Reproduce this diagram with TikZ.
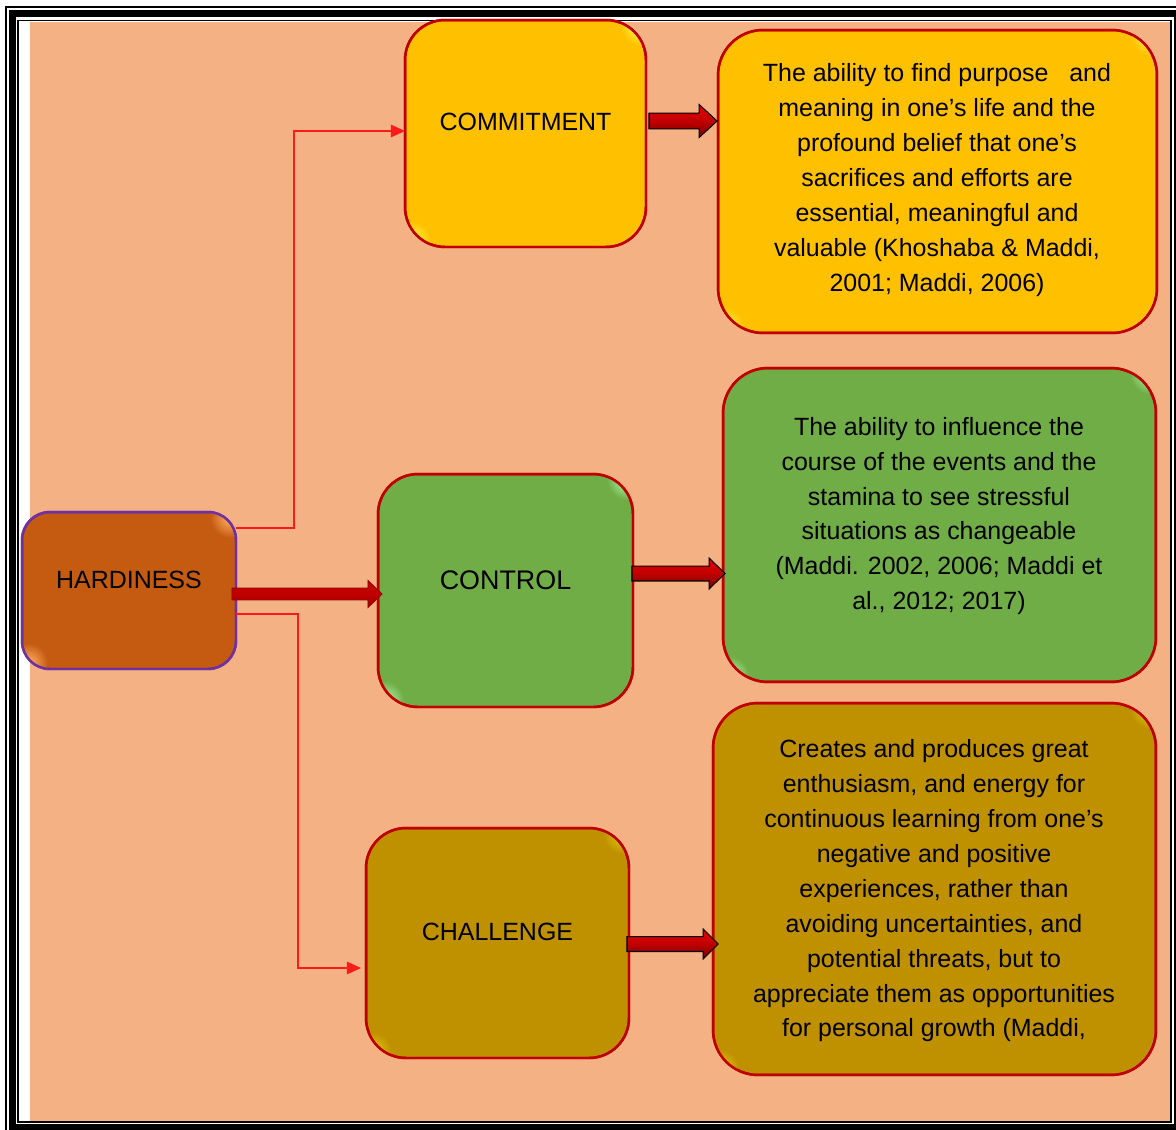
\documentclass[tikz,border=0pt]{standalone}
\usepackage{fontspec}
\setmainfont{Liberation Sans}
\usetikzlibrary{calc,arrows.meta}
\definecolor{peach}{HTML}{F4B183}
\definecolor{hardfill}{HTML}{C55A11}
\definecolor{hardedge}{HTML}{7030A0}
\definecolor{gold}{HTML}{FFC000}
\definecolor{leaf}{HTML}{70AD47}
\definecolor{ochre}{HTML}{BF9000}
\definecolor{edgered}{HTML}{C00000}
\definecolor{linkred}{HTML}{FF1A1A}

% glossy corner highlights, then the border redrawn on top
\newcommand\gloss[5]{%
  \begin{scope}
    \clip[rounded corners=#2] (#1.south west) rectangle (#1.north east);
    \shade[inner color=#4, outer color=#3] ($(#1.north east)+(-6,6)$) circle (20);
    \shade[inner color=#4, outer color=#3] ($(#1.south west)+(6,-6)$) circle (20);
  \end{scope}
  \draw[line width=1.4pt, #5, rounded corners=#2] (#1.south west) rectangle (#1.north east);
}
% block arrow: start, tip, shaft half-height, head half-height, head length
\newcommand\blockarr[6]{%
  \draw[#6] let \p1=(#1), \p2=(#2) in
    (\x1,\y1+#3) -- (\x2-#5,\y1+#3) -- (\x2-#5,\y1+#4) -- (\x2,\y1)
    -- (\x2-#5,\y1-#4) -- (\x2-#5,\y1-#3) -- (\x1,\y1-#3) -- cycle;
}

\begin{document}
\begin{tikzpicture}[x=0.02cm, y=-0.02cm,
  box/.style={rectangle, inner sep=0pt, outer sep=0pt, line width=1.4pt},
  lbl/.style={font=\fontsize{14.2pt}{17pt}\selectfont, inner sep=0pt},
  desc/.style={font=\fontsize{14.2pt}{19.85pt}\selectfont, align=center, inner sep=0pt},
  link/.style={draw=linkred, line width=0.9pt, -{Triangle[length=8pt,width=7pt]}},
  fatarrow/.style={draw=black, line width=0.6pt, top color=red!90!black, bottom color=red!45!black, middle color=edgered},
  mainarrow/.style={draw=red!60!black, line width=0.5pt, top color=red!75!black, bottom color=red!60!black, middle color=edgered}
]
\useasboundingbox (0,0) rectangle (1176,1129);
\begin{scope}
  \clip (0,0) rectangle (1176,1129);
  \fill[white] (0,0) rectangle (1176,1129);
  \fill[peach] (30,22) rectangle (1170,1121);
  % triple frame
  \draw[line width=1.13pt] (6,7) rectangle (1195,1145);
  \draw[line width=3.97pt] (12.5,13.5) rectangle (1177.5,1127.5);
  \draw[line width=1.13pt] (18,20.5) rectangle (1171,1122);
\end{scope}

% boxes
\node[box, fill=hardfill, draw=hardedge, rounded corners=0.56cm, minimum width=4.28cm, minimum height=3.14cm] (hard) at (129,590.5) {};
\node[box, fill=gold, draw=edgered, rounded corners=0.8cm, minimum width=4.82cm, minimum height=4.54cm] (comm) at (525.5,133.5) {};
\node[box, fill=leaf, draw=edgered, rounded corners=0.8cm, minimum width=5.10cm, minimum height=4.66cm] (ctrl) at (505.5,590.5) {};
\node[box, fill=ochre, draw=edgered, rounded corners=0.8cm, minimum width=5.26cm, minimum height=4.60cm] (chal) at (497.5,943) {};
\node[box, fill=gold, draw=edgered, rounded corners=0.9cm, minimum width=8.78cm, minimum height=6.06cm] (d1) at (937.5,181.5) {};
\node[box, fill=leaf, draw=edgered, rounded corners=0.9cm, minimum width=8.66cm, minimum height=6.28cm] (d2) at (939.5,525) {};
\node[box, fill=ochre, draw=edgered, rounded corners=0.9cm, minimum width=8.86cm, minimum height=7.44cm] (d3) at (934.5,889) {};

\gloss{hard}{0.56cm}{hardfill}{orange!60!white}{hardedge}
\gloss{comm}{0.8cm}{gold}{yellow!70!white}{edgered}
\gloss{ctrl}{0.8cm}{leaf}{green!30!white}{edgered}
\gloss{chal}{0.8cm}{ochre}{yellow!60!ochre}{edgered}
\gloss{d1}{0.9cm}{gold}{yellow!70!white}{edgered}
\gloss{d2}{0.9cm}{leaf}{green!30!white}{edgered}
\gloss{d3}{0.9cm}{ochre}{yellow!60!ochre}{edgered}

% labels
\node[lbl] (hard-t) at ($(hard.center)+(0,-10.5)$) {HARDINESS};
\node[lbl] (comm-t) at ($(comm.center)+(0,-11.5)$) {COMMITMENT};
\node[lbl, font=\fontsize{15.3pt}{18pt}\selectfont] (ctrl-t) at ($(ctrl.center)+(0,-10.5)$) {CONTROL};
\node[lbl] (chal-t) at ($(chal.center)+(0,-11)$) {CHALLENGE};

\node[desc] (d1-t) at (937,180) {The ability to find purpose\ \ \ and\\meaning in one’s life and the\\profound belief that one’s\\sacrifices and efforts are\\essential, meaningful and\\valuable (Khoshaba \& Maddi,\\2001; Maddi, 2006)};
\node[desc] (d2-t) at (939,516) {The ability to influence the\\course of the events and the\\stamina to see stressful\\situations as changeable\\(Maddi. 2002, 2006; Maddi et\\al., 2012; 2017)};
\node[desc] (d3-t) at (934,891) {Creates and produces great\\enthusiasm, and energy for\\continuous learning from one’s\\negative and positive\\experiences, rather than\\avoiding uncertainties, and\\potential threats, but to\\appreciate them as opportunities\\for personal growth (Maddi,};

% thin elbow connectors
\coordinate (h1) at ($(hard.east)+(0,-62.5)$);
\coordinate (h2) at ($(hard.east)+(0,23.5)$);
\coordinate (cw) at ($(comm.west)+(0,-2.5)$);
\coordinate (lw) at ($(chal.west)+(-5,25)$);
\draw[link] (h1) -- ++(58,0) |- (cw);
\draw[link] (h2) -- ++(62,0) |- (lw);

% block arrows
\coordinate (a0s) at ($(hard.east)+(-4,3.5)$);
\coordinate (a1s) at ($(comm.east)+(3,-12.5)$);
\coordinate (a2s) at ($(ctrl.east)+(-1,-17)$);
\coordinate (a3s) at ($(chal.east)+(-2,1)$);
\coordinate (a0t) at ($(ctrl.west |- a0s)+(4,0)$);
\coordinate (a1t) at ($(d1.west |- a1s)+(-1,0)$);
\coordinate (a2t) at ($(d2.west |- a2s)+(2,0)$);
\coordinate (a3t) at ($(d3.west |- a3s)+(5,0)$);
\blockarr{a0s}{a0t}{3.4pt}{7.7pt}{8pt}{mainarrow}
\blockarr{a1s}{a1t}{4.5pt}{9.4pt}{10.2pt}{fatarrow}
\blockarr{a2s}{a2t}{4.25pt}{8.8pt}{9.1pt}{fatarrow}
\blockarr{a3s}{a3t}{4.25pt}{8.5pt}{8.5pt}{fatarrow}
\end{tikzpicture}
\end{document}
